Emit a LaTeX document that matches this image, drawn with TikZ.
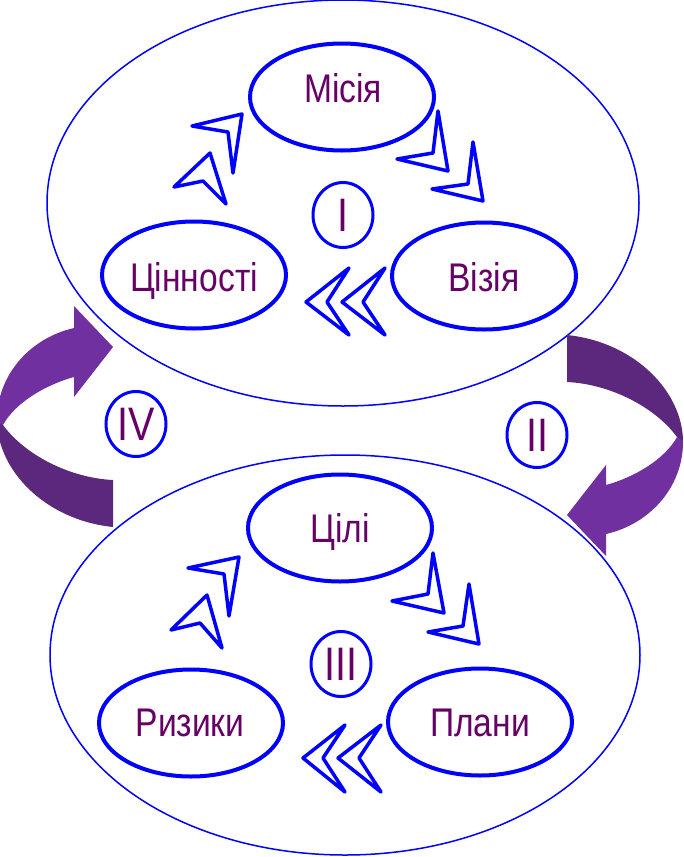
\documentclass[tikz,border=0pt]{standalone}
\usepackage{fontspec}
\usetikzlibrary{shapes.geometric}
\newfontfamily\lblfont[FakeStretch=0.84]{Liberation Sans}
\definecolor{cblue}{RGB}{0,0,255}
\definecolor{ctext}{RGB}{102,0,102}
\definecolor{plight}{RGB}{112,48,160}
\definecolor{pdark}{RGB}{92,40,125}
\tikzset{
  bigell/.style={draw=cblue, line width=1.5pt, ellipse, inner sep=0pt},
  smallell/.style={draw=cblue, line width=4pt, ellipse, inner sep=0pt,
     minimum width=184pt, minimum height=107pt},
  lbl/.style={anchor=base, inner sep=0pt, text=ctext,
     font=\lblfont\fontsize{40}{42}\selectfont},
  romell/.style={draw=cblue, line width=3pt, ellipse, inner sep=0pt,
     minimum width=60pt, minimum height=65pt, text=ctext,
     font=\lblfont\fontsize{47}{49}\selectfont},
  chev/.style={draw=cblue, line width=3.5pt, line join=round, fill=white},
}
\begin{document}
\begin{tikzpicture}[x=1pt,y=-1pt]
\fill[white] (0,0) rectangle (683,857);
\useasboundingbox (0,0) rectangle (683,857);
\clip (0,0) rectangle (683,857);

% big ellipses
\node[bigell, minimum width=592pt, minimum height=406pt] (top) at (343,203) {};
\node[bigell, minimum width=590pt, minimum height=400pt] (bot) at (345,655) {};

% small ellipses
\node[smallell] (misia) at (342,97) {};
\node[smallell] (tsinn) at (194,275) {};
\node[smallell] (vizia) at (484,276) {};
\node[smallell] (tsili) at (340,528) {};
\node[smallell] (ryzyky) at (191,723) {};
\node[smallell] (plany) at (480,722) {};

% labels
\node[lbl] (misiaT) at (343,102) {Місія};
\node[lbl] (tsinnT) at (194,291) {Цінності};
\node[lbl] (viziaT) at (484,291) {Візія};
\node[lbl] (tsiliT) at (340,542) {Цілі};
\node[lbl] (ryzykyT) at (190,736) {Ризики};
\node[lbl] (planyT) at (480,736) {Плани};

% roman numerals
\node[romell] (r1) at (343,215) {I};
\node[romell] (r2) at (537,435) {II};
\node[romell] (r3) at (341,664) {III};
\node[romell] (r4) at (136,424) {IV};

% chevrons, top group
\draw[chev] (242,114) -- (192,126) -- (228,132) -- (233,173) -- cycle;
\draw[chev] (210,153) -- (174,187) -- (203,181) -- (226,204) -- cycle;
\draw[chev] (448,171) -- (438,111) -- (433,153) -- (397,159) -- cycle;
\draw[chev] (483,201) -- (473,142) -- (468,184) -- (432,189) -- cycle;
\draw[chev] (306,302) -- (349,268) -- (327,302) -- (349,335) -- cycle;
\draw[chev] (342,302) -- (385,268) -- (363,302) -- (385,335) -- cycle;

% chevrons, bottom group
\draw[chev] (239,557) -- (188,568) -- (224,574) -- (229,616) -- cycle;
\draw[chev] (207,595) -- (171,630) -- (200,623) -- (222,648) -- cycle;
\draw[chev] (444,613) -- (433,553) -- (428,594) -- (392,601) -- cycle;
\draw[chev] (479,644) -- (469,584) -- (463,626) -- (428,632) -- cycle;
\draw[chev] (303,758) -- (345,725) -- (323,758) -- (345,792) -- cycle;
\draw[chev] (338,758) -- (381,725) -- (359,758) -- (381,792) -- cycle;

% curved arrows (IV on the left, II on the right = rotated copy)
\foreach \ang in {0,180}{
\begin{scope}[rotate around={\ang:(340,431)}]
\fill[plight] (113,347) -- (74,306) -- (74,328)
   .. controls (30,338) and (-3,375) .. (-3,420)
   -- (3,425)
   .. controls (15,403) and (45,385) .. (74,377)
   -- (74,397) -- cycle;
\fill[pdark] (-3,420)
   .. controls (-3,470) and (45,520) .. (113,527)
   -- (113,480)
   .. controls (70,478) and (25,455) .. (3,425) -- cycle;
\end{scope}
}
\end{tikzpicture}
\end{document}
